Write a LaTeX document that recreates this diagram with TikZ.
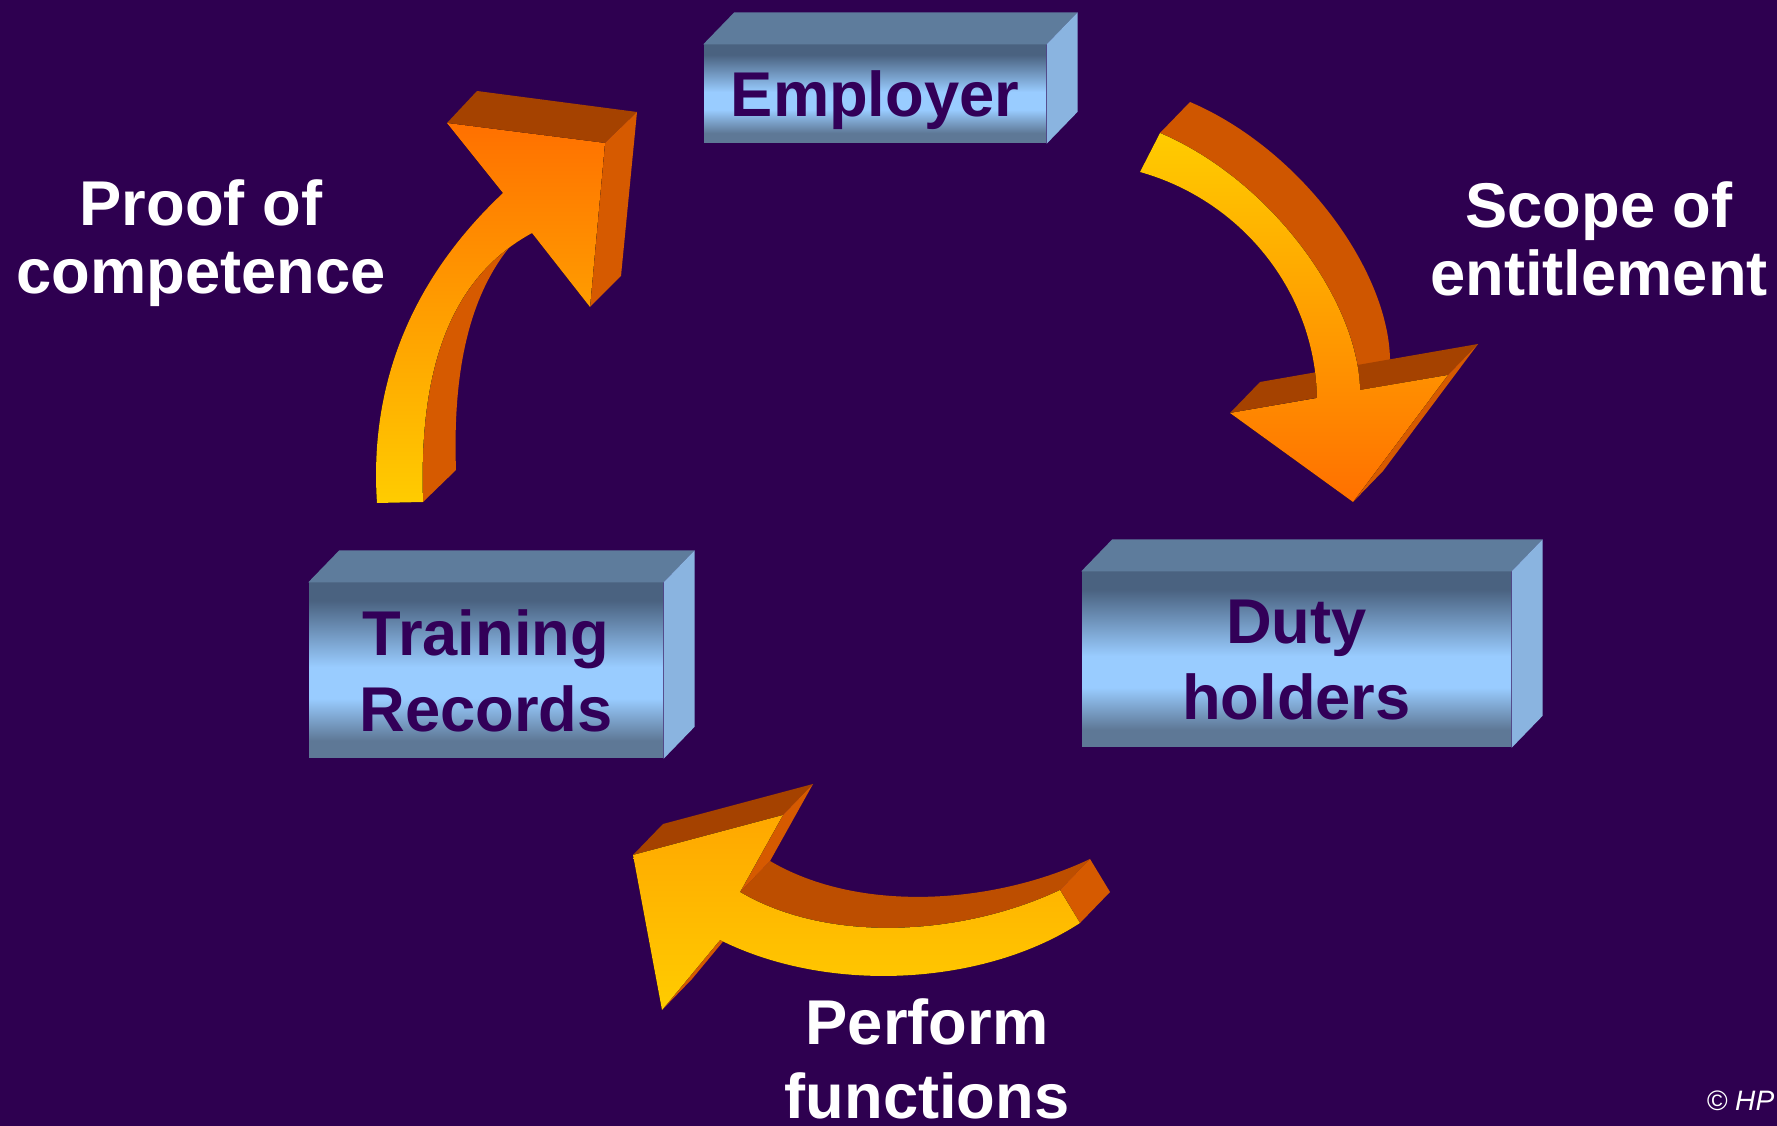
\documentclass[tikz,border=0pt]{standalone}
\usepackage{fontspec}
\setmainfont{Liberation Sans}
\usetikzlibrary{calc}
\definecolor{bgpurple}{RGB}{46,0,80}
\definecolor{txtpurple}{RGB}{50,0,88}
\definecolor{boxlow}{RGB}{94,120,150}
\definecolor{boxhigh}{RGB}{74,98,128}
\definecolor{boxlight}{RGB}{153,204,255}
\definecolor{boxtopc}{RGB}{94,124,156}
\definecolor{boxsidec}{RGB}{138,180,224}
\definecolor{aryellow}{RGB}{255,204,0}
\definecolor{arorange}{RGB}{255,112,0}
\definecolor{arside}{RGB}{214,90,0}
\definecolor{artop}{RGB}{165,66,0}
\pgfdeclareverticalshading{boxfront}{100bp}{color(0bp)=(boxlow); color(30bp)=(boxlow); color(42bp)=(boxlight); color(51bp)=(boxlight); color(70bp)=(boxhigh); color(100bp)=(boxhigh)}
\begin{document}
\begin{tikzpicture}[x=0.1mm,y=-0.1mm,
  box/.style={shade,shading=boxfront,inner sep=0pt,text=txtpurple,align=center,text depth=0pt,font=\bfseries\fontsize{18}{21.6}\selectfont},
  note/.style={text=white,align=center,font=\bfseries\fontsize{18}{19.5}\selectfont}]
\useasboundingbox (0,0) rectangle (1777,1126);
\fill[bgpurple] (0,0) rectangle (1777,1126);
\node[box,minimum width=34.2mm,minimum height=9.8mm] (emp) at (875,94) {Employer};
\node[box,minimum width=42.9mm,minimum height=17.5mm] (duty) at (1296.5,659.5) {Duty\\holders};
\node[box,minimum width=35.4mm,minimum height=17.5mm] (rec) at (486,670.5) {Training\\Records};
\foreach \b in {emp,duty,rec}{
	\fill[boxtopc] (\b.north west) -- ++(31,-32) -- ($(\b.north east)+(31,-32)$) -- (\b.north east) -- cycle;
	\fill[boxsidec] (\b.north east) -- ++(31,-32) -- ($(\b.south east)+(31,-32)$) -- (\b.south east) -- cycle;
}
\fill[arside] (423,502) -- (456,470) .. controls (451,328) and (488,243) .. (565,201) -- (532,233) .. controls (455,275) and (418,360) .. (423,502) -- cycle;
\fill[artop] (447,123) -- (477,91) -- (637,112) -- (605,143) -- cycle;
\fill[arside] (605,143) -- (637,112) -- (621,276) -- (590,307) -- cycle;
\fill[top color=arorange,bottom color=aryellow] (377,503) .. controls (370,400) and (400,290) .. (503,193) -- (447,123) -- (605,143) -- (590,307) -- (532,233) .. controls (455,275) and (418,360) .. (423,502) -- cycle;
\fill[arside!85!artop] (1160,133) -- (1190,102) .. controls (1300,149) and (1388,269) .. (1390,359) -- (1360,390) .. controls (1358,300) and (1270,180) .. (1160,133) -- cycle;
\fill[artop] (1230,413) -- (1260,382) -- (1478,344) -- (1448,375) -- cycle;
\fill[arside] (1448,375) -- (1478,344) -- (1383,471) -- (1353,502) -- cycle;
\fill[top color=aryellow,bottom color=arorange] (1140,172) .. controls (1240,200) and (1315,290) .. (1317,398) -- (1230,413) -- (1353,502) -- (1448,375) -- (1360,390) .. controls (1358,300) and (1270,180) .. (1160,133) -- cycle;
\fill[arside!50!artop] (740,892) .. controls (830,945) and (965,935) .. (1060,890) -- (1090,859) .. controls (995,904) and (860,914) .. (770,861) -- cycle;
\fill[arside] (1060,890) -- (1090,859) -- (1110,892) -- (1080,923) -- cycle;
\fill[artop] (633,855) -- (663,824) -- (813,784) -- (783,815) -- cycle;
\fill[arside] (783,815) -- (813,784) -- (770,861) -- (740,892) -- cycle;
\fill[arside] (662,1010) -- (692,979) -- (750,909) -- (720,940) -- cycle;
\fill[top color=aryellow!60!arorange,middle color=arorange,bottom color=aryellow] (1080,923) .. controls (985,985) and (830,995) .. (720,940) -- (662,1010) -- (633,855) -- (783,815) -- (740,892) .. controls (830,945) and (965,935) .. (1060,890) -- cycle;
\node[note] (proof) at (201,243) {Proof of\\competence};
\node[note] (scope) at (1599,239) {Scope of\\entitlement};
\node[note,font=\bfseries\fontsize{18}{21}\selectfont] (perform) at (927,1059) {Perform\\functions};
\node[anchor=base west,inner sep=0pt,text=white,font=\itshape\fontsize{8}{9}\selectfont] (copy) at (1706,1110) {© HP};
\end{tikzpicture}
\end{document}
